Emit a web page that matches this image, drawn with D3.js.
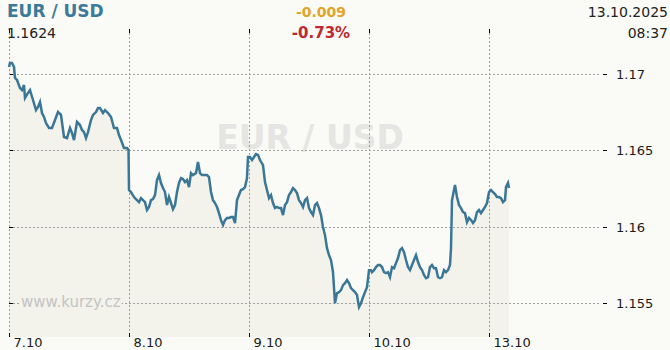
<!DOCTYPE html>
<html><head><meta charset="utf-8">
<script src="https://cdn.jsdelivr.net/npm/d3@7"></script>
<style>body{margin:0;background:#fafaf6;} svg{display:block;font-family:"DejaVu Sans",Verdana,sans-serif;}</style>
</head><body>
<svg id="c" width="670" height="350"></svg>
<script>
// ---- data ----
const dayLabels = ["7.10","8.10","9.10","10.10","13.10"];
const dayHours = [0,24,48,72,96];
const yTicks = [1.155,1.16,1.165,1.17];
const hours = [
 0,0.2,0.6,1.0,1.2,1.6,2.2,2.6,3.0,3.2,3.8,4.2,4.8,5.4,5.8,6.2,6.6,7.0,7.4,8.0,8.6,9.2,9.8,10.4,11.0,11.6,12.2,12.6,13.0,13.6,14.2,14.6,15.0,15.4,15.8,16.4,16.8,17.4,17.8,18.2,18.8,19.2,19.8,20.4,21.0,21.6,22.0,22.4,23.0,23.6,23.9,
 24.0,24.4,25.0,25.6,26.0,26.4,26.8,27.2,27.6,28.0,28.4,28.8,29.2,29.6,30.0,30.4,30.8,31.2,31.6,32.0,32.4,32.8,33.2,33.6,34.0,34.4,34.8,35.2,35.6,36.0,36.4,36.8,37.4,37.8,38.2,38.6,39.2,39.6,40.0,40.4,40.8,41.2,41.6,42.0,42.4,42.8,43.2,43.6,44.0,44.4,44.8,45.2,45.6,46.0,46.4,46.8,47.2,47.6,47.8,
 48.2,48.6,49.0,49.4,49.8,50.2,50.8,51.2,51.6,52.0,52.4,52.8,53.2,53.6,54.0,54.4,54.8,55.2,55.6,56.0,56.4,56.8,57.2,57.6,58.0,58.4,58.8,59.2,59.6,60.0,60.4,60.8,61.2,61.6,62.0,62.4,62.8,63.2,63.6,64.0,64.4,64.8,65.2,65.6,66.0,66.4,66.8,67.2,67.6,68.0,68.4,68.8,69.2,69.6,70.0,70.4,70.8,71.2,71.6,72.0,
 72.4,72.6,73.0,73.4,73.8,74.2,74.6,75.0,75.4,75.8,76.2,76.6,77.0,77.4,77.8,78.2,78.6,79.0,79.4,79.8,80.2,80.6,81.0,81.4,81.8,82.2,82.6,83.0,83.4,83.8,84.2,84.6,85.0,85.4,85.8,86.2,86.6,87.0,87.4,87.8,88.2,88.4,88.6,89.0,89.2,89.6,90.0,90.4,90.8,91.2,91.6,92.0,92.4,92.8,93.2,93.6,94.0,94.4,94.8,95.2,95.6,96.0,
 96.4,96.8,97.2,97.6,98.0,98.4,98.8,99.2,99.4,99.8,100.0
];
const rates = [
 1.17046,1.17072,1.17072,1.17046,1.16974,1.16961,1.16908,1.16895,1.16928,1.16843,1.16876,1.16895,1.16830,1.16764,1.16784,1.16817,1.16745,1.16719,1.16679,1.16647,1.16647,1.16699,1.16751,1.16732,1.16588,1.16581,1.16647,1.16614,1.16568,1.16686,1.16666,1.16634,1.16620,1.16581,1.16620,1.16699,1.16732,1.16751,1.16777,1.16777,1.16745,1.16764,1.16745,1.16719,1.16647,1.16647,1.16601,1.16568,1.16516,1.16516,1.16503,
 1.16241,1.16228,1.16195,1.16175,1.16162,1.16188,1.16175,1.16162,1.16110,1.16130,1.16175,1.16182,1.16208,1.16306,1.16339,1.16287,1.16254,1.16228,1.16143,1.16195,1.16156,1.16116,1.16143,1.16228,1.16287,1.16319,1.16313,1.16293,1.16306,1.16260,1.16352,1.16339,1.16352,1.16424,1.16352,1.16339,1.16339,1.16339,1.16326,1.16228,1.16175,1.16156,1.16130,1.16090,1.16044,1.16012,1.16044,1.16058,1.16058,1.16064,1.16064,1.16025,1.16175,1.16208,1.16241,1.16247,1.16260,1.16319,1.16457,
 1.16457,1.16437,1.16457,1.16476,1.16470,1.16437,1.16404,1.16293,1.16241,1.16188,1.16208,1.16156,1.16123,1.16130,1.16123,1.16123,1.16077,1.16143,1.16162,1.16208,1.16228,1.16254,1.16241,1.16221,1.16175,1.16156,1.16130,1.16175,1.16188,1.16123,1.16097,1.16077,1.16143,1.16156,1.16123,1.16077,1.15999,1.15946,1.15861,1.15815,1.15783,1.15704,1.15501,1.15567,1.15573,1.15586,1.15619,1.15632,1.15652,1.15632,1.15599,1.15586,1.15573,1.15554,1.15475,1.15501,1.15540,1.15573,1.15606,1.15717,
 1.15717,1.15704,1.15717,1.15737,1.15750,1.15750,1.15737,1.15704,1.15698,1.15704,1.15671,1.15737,1.15730,1.15763,1.15796,1.15848,1.15861,1.15835,1.15783,1.15737,1.15717,1.15750,1.15783,1.15815,1.15770,1.15737,1.15717,1.15685,1.15665,1.15671,1.15737,1.15750,1.15730,1.15730,1.15671,1.15665,1.15671,1.15717,1.15704,1.15717,1.15750,1.15861,1.16175,1.16241,1.16274,1.16195,1.16143,1.16123,1.16097,1.16090,1.16031,1.16058,1.16044,1.16025,1.16044,1.16097,1.16110,1.16090,1.16110,1.16130,1.16156,1.16228,
 1.16241,1.16228,1.16215,1.16195,1.16195,1.16188,1.16162,1.16175,1.16260,1.16287,1.16254
];
const title = "EUR / USD";
const lastValue = "1.1624";
const change = "-0.009";
const changePct = "-0.73%";
const dateText = "13.10.2025";
const timeText = "08:37";
const sourceText = "www.kurzy.cz";

// ---- chart ----
const svg = d3.select("#c");
const W = 670, H = 350;
const plotTop = 29, plotBottom = 337, gridRight = 601;
const x = d3.scaleLinear().domain([0, 96]).range([9, 489]);
const y = d3.scaleLinear().domain([1.155, 1.17]).range([303.3, 74]);
const pts = hours.map((h, i) => ({h, v: rates[i]}));

svg.append("rect").attr("width", W).attr("height", H).attr("fill", "#fafaf6");

// area under line
svg.append("path").datum(pts)
  .attr("fill", "#f3f3eb")
  .attr("d", d3.area().x(d => x(d.h)).y0(plotBottom).y1(d => y(d.v)));

// big watermark
svg.append("text").attr("x", 310).attr("y", 149).attr("text-anchor", "middle")
  .attr("font-size", 33).attr("font-weight", "bold").attr("fill", "#e5e5e3").text(title);

// horizontal grid
const gH = svg.append("g");
yTicks.forEach(t => {
  const yy = Math.round(y(t)) + 0.5;
  gH.append("line").attr("x1", 9).attr("x2", gridRight).attr("y1", yy).attr("y2", yy)
    .attr("stroke", "#a0a0a0").attr("stroke-dasharray", "2,2");
  gH.append("line").attr("x1", 9).attr("x2", 13).attr("y1", yy).attr("y2", yy).attr("stroke", "#000");
  gH.append("line").attr("x1", 603).attr("x2", 607).attr("y1", yy).attr("y2", yy).attr("stroke", "#000");
  gH.append("text").attr("x", 616).attr("y", yy).attr("dy", "0.35em")
    .attr("font-size", 13).attr("fill", "#1a1a1a").text(d3.format("")(t));
});

// vertical grid
const gV = svg.append("g");
dayHours.forEach((h, i) => {
  const xx = Math.round(x(h)) + 0.5;
  gV.append("line").attr("x1", xx).attr("x2", xx).attr("y1", plotTop + 4).attr("y2", plotBottom - 4)
    .attr("stroke", "#a0a0a0").attr("stroke-dasharray", "2,2");
  gV.append("line").attr("x1", xx).attr("x2", xx).attr("y1", plotTop).attr("y2", plotTop + 4).attr("stroke", "#000");
  gV.append("line").attr("x1", xx).attr("x2", xx).attr("y1", plotBottom - 4).attr("y2", plotBottom).attr("stroke", "#000");
  gV.append("text").attr("x", xx + 4).attr("y", 347)
    .attr("font-size", 13).attr("fill", "#1a1a1a").text(dayLabels[i]);
});

// source watermark with background
const src = svg.append("text").attr("x", 21).attr("y", 307)
  .attr("font-size", 15).attr("fill", "#c4c4c4").text(sourceText);
const bb = src.node().getBBox();
svg.insert("rect", () => src.node())
  .attr("x", bb.x - 1).attr("y", bb.y).attr("width", bb.width + 2).attr("height", bb.height)
  .attr("fill", "#f3f3eb");

// line
svg.append("path").datum(pts)
  .attr("fill", "none").attr("stroke", "#3a7797").attr("stroke-width", 2.5)
  .attr("stroke-linejoin", "miter")
  .attr("d", d3.line().x(d => x(d.h)).y(d => y(d.v)));

// header
svg.append("text").attr("x", 7).attr("y", 17).attr("font-size", 17).attr("font-weight", "bold")
  .attr("fill", "#3b7a99").text(title);
svg.append("text").attr("x", 7).attr("y", 38).attr("font-size", 14).attr("fill", "#222").text(lastValue);
svg.append("text").attr("x", 321).attr("y", 17).attr("text-anchor", "middle").attr("font-size", 14)
  .attr("font-weight", "bold").attr("fill", "#e0a52a").text(change);
svg.append("text").attr("x", 321).attr("y", 38).attr("text-anchor", "middle").attr("font-size", 15)
  .attr("font-weight", "bold").attr("fill", "#c0272d").text(changePct);
svg.append("text").attr("x", 668).attr("y", 17).attr("text-anchor", "end").attr("font-size", 14)
  .attr("fill", "#222").text(dateText);
svg.append("text").attr("x", 668).attr("y", 38).attr("text-anchor", "end").attr("font-size", 14)
  .attr("fill", "#222").text(timeText);
</script>
</body></html>
